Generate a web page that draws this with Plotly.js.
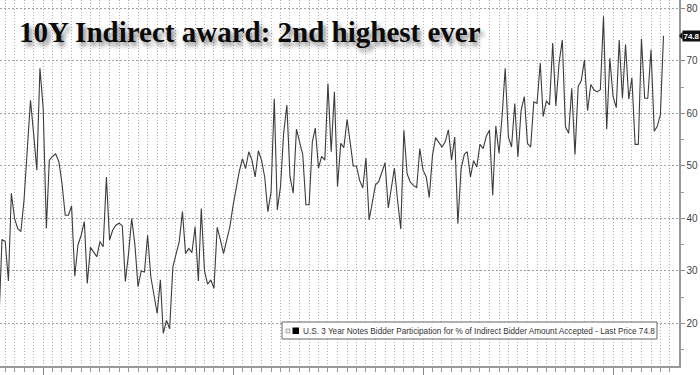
<!DOCTYPE html>
<html><head><meta charset="utf-8">
<script src="https://cdn.plot.ly/plotly-3.0.1.min.js"></script>
<style>html,body{margin:0;padding:0;background:#fff;} #chart{width:700px;height:375px;}</style>
</head><body><div id="chart"></div>
<script>
// ---- data ----
const firstMonth = [2004, 11];   // year, month of the first value
const indirectPct = [
  20, 36.0, 35.6, 28.1, 44.8, 40.0, 38.1, 37.5, 43.5, 53.0,
  62.5, 56.2, 49.2, 68.6, 61.0, 38.1, 51.1, 51.8, 52.3, 50.8,
  46.7, 40.6, 40.6, 42.4, 29.0, 34.9, 36.8, 39.4, 27.6, 34.5,
  33.7, 32.7, 35.6, 34.6, 47.9, 35.9, 37.8, 38.7, 39.1, 38.6,
  28.0, 33.3, 40.0, 35.0, 27.0, 30.0, 29.8, 36.8, 28.9, 25.4,
  21.9, 28.3, 18.1, 20.6, 19.0, 30.8, 33.0, 35.6, 41.3, 33.3,
  34.3, 33.5, 38.4, 28.1, 41.9, 30.0, 27.5, 28.3, 26.7, 38.3,
  35.9, 33.3, 35.9, 38.4, 42.5, 46.3, 48.9, 51.4, 49.5, 52.7,
  51.1, 47.9, 52.9, 51.1, 47.9, 41.3, 45.0, 62.8, 41.6, 46.1,
  56.2, 61.6, 48.0, 44.8, 57.0, 54.6, 52.1, 42.6, 42.6, 54.6,
  57.2, 49.6, 51.8, 51.1, 65.7, 52.7, 64.1, 46.1, 54.3, 53.5,
  58.9, 54.3, 50.0, 50.0, 47.3, 45.8, 51.5, 39.7, 43.5, 46.4,
  47.0, 48.9, 50.6, 42.0, 46.1, 49.6, 43.5, 38.0, 56.8, 48.5,
  46.9, 46.3, 45.9, 53.3, 49.2, 47.9, 44.0, 52.0, 55.4, 54.6,
  53.6, 54.6, 56.9, 51.1, 55.5, 39.0, 49.5, 52.2, 52.7, 47.9,
  51.0, 49.8, 54.1, 53.3, 55.7, 56.8, 44.4, 57.6, 52.4, 60.0,
  68.6, 55.5, 53.6, 61.9, 51.7, 60.6, 63.2, 54.3, 53.6, 62.2,
  61.9, 69.6, 59.4, 62.4, 61.6, 73.4, 61.4, 69.6, 74.0, 57.5,
  56.2, 64.8, 52.2, 65.2, 66.2, 70.2, 60.5, 65.5, 64.5, 64.1,
  64.5, 78.5, 57.0, 70.5, 63.2, 61.1, 74.0, 62.9, 73.1, 62.7,
  66.8, 54.1, 54.1, 74.2, 62.9, 62.9, 72.1, 56.6, 57.5, 59.7,
  74.8
];
const yTickVals = [20, 30, 40, 50, 60, 70, 80];
const yTickText = ['20', '30', '40', '50', '60', '70', '80'];
const titleText = '10Y Indirect award: 2nd highest ever';
const legendText = 'U.S. 3 Year Notes Bidder Participation for % of Indirect Bidder Amount Accepted - Last Price ';

// ---- build ----
const dates = indirectPct.map((_, i) => {
  const m0 = firstMonth[1] - 1 + i;
  const y = firstMonth[0] + Math.floor(m0 / 12);
  const m = (m0 % 12) + 1;
  return y + '-' + String(m).padStart(2, '0') + '-01';
});
const lastVal = indirectPct[indirectPct.length - 1];

const W = 700, H = 375, ML = 0, MR = 21, MT = 0, MB = 9;
const PW = W - ML - MR, PH = H - MT - MB;
const px = x => (x - ML) / PW;
const py = y => (H - MB - y) / PH;

const trace = {
  type: 'scatter', mode: 'lines', x: dates, y: indirectPct,
  line: {color: '#3c3c3c', width: 1.1}, hoverinfo: 'skip', cliponaxis: true
};

const layout = {
  width: W, height: H,
  margin: {l: ML, r: MR, t: MT, b: MB, pad: 0},
  paper_bgcolor: '#ffffff', plot_bgcolor: '#ffffff',
  showlegend: false,
  xaxis: {
    type: 'date', range: ['2004-11-12', '2022-09-27'],
    tick0: '2006-01-01', dtick: 'M60',
    ticks: 'outside', ticklen: 9, tickcolor: '#888', tickwidth: 1,
    showticklabels: false,
    showline: true, linecolor: '#999', linewidth: 1.5,
    showgrid: true, gridcolor: '#b4b4b4', griddash: '1px,2px', gridwidth: 1,
    zeroline: false,
    minor: {dtick: 'M3', tick0: '2006-01-01', ticks: 'outside', ticklen: 4,
            tickcolor: '#999', showgrid: true, gridcolor: '#b4b4b4',
            griddash: '1px,2px', gridwidth: 1}
  },
  yaxis: {
    side: 'right', range: [11.9, 81.6],
    tickmode: 'array', tickvals: yTickVals, ticktext: yTickText,
    ticks: 'outside', ticklen: 4, tickcolor: '#888', tickwidth: 1,
    tickfont: {family: 'Liberation Sans, Arial, sans-serif', size: 10, color: '#444'},
    showline: true, linecolor: '#999', linewidth: 1.5,
    showgrid: true, gridcolor: '#a0a0a0', griddash: '2px,2px', gridwidth: 1,
    zeroline: false,
    minor: {dtick: 5, tick0: 0, ticks: 'outside', ticklen: 3, tickcolor: '#999', showgrid: false}
  },
  shapes: [
    // legend box
    {type: 'rect', xref: 'paper', yref: 'paper', x0: px(282), x1: px(657), y0: py(339), y1: py(322),
     fillcolor: '#ffffff', line: {color: '#666', width: 1}, layer: 'above'},
    {type: 'rect', xref: 'paper', yref: 'paper', x0: px(286), x1: px(290), y0: py(333), y1: py(329),
     fillcolor: '#e8e8e8', line: {color: '#aaa', width: 1}, layer: 'above'},
    {type: 'rect', xref: 'paper', yref: 'paper', x0: px(292.5), x1: px(299), y0: py(334), y1: py(327.5),
     fillcolor: '#000', line: {width: 0}, layer: 'above'},
    // last price pointer
    {type: 'path', xref: 'paper', yref: 'y',
     path: 'M ' + px(679) + ',' + lastVal + ' L ' + px(682.5) + ',' + (lastVal + 0.75) + ' L ' + px(682.5) + ',' + (lastVal - 0.75) + ' Z',
     fillcolor: '#111', line: {width: 0}, layer: 'above'}
  ],
  annotations: [
    {xref: 'paper', yref: 'paper', x: px(17), y: py(32), xanchor: 'left', yanchor: 'middle',
     showarrow: false, text: titleText,
     font: {family: 'Liberation Serif, Times New Roman, serif', size: 29, color: '#0a0a0a', weight: 700,
            shadow: '3px 4px 4px rgba(0,0,0,0.45)'}},
    {xref: 'paper', yref: 'paper', x: px(300.5), y: py(331), xanchor: 'left', yanchor: 'middle',
     showarrow: false, text: legendText + lastVal.toFixed(1),
     font: {family: 'Liberation Sans, Arial, sans-serif', size: 8.2, color: '#333'}},
    {xref: 'paper', yref: 'y', x: px(682), y: lastVal, xanchor: 'left', yanchor: 'middle',
     showarrow: false, text: '<b>' + lastVal.toFixed(1) + '</b>', bgcolor: '#111', borderpad: 0.5,
     font: {family: 'Liberation Sans, Arial, sans-serif', size: 8, color: '#fff'}}
  ]
};

Plotly.newPlot('chart', [trace], layout, {staticPlot: true, displayModeBar: false});
</script>
</body></html>
